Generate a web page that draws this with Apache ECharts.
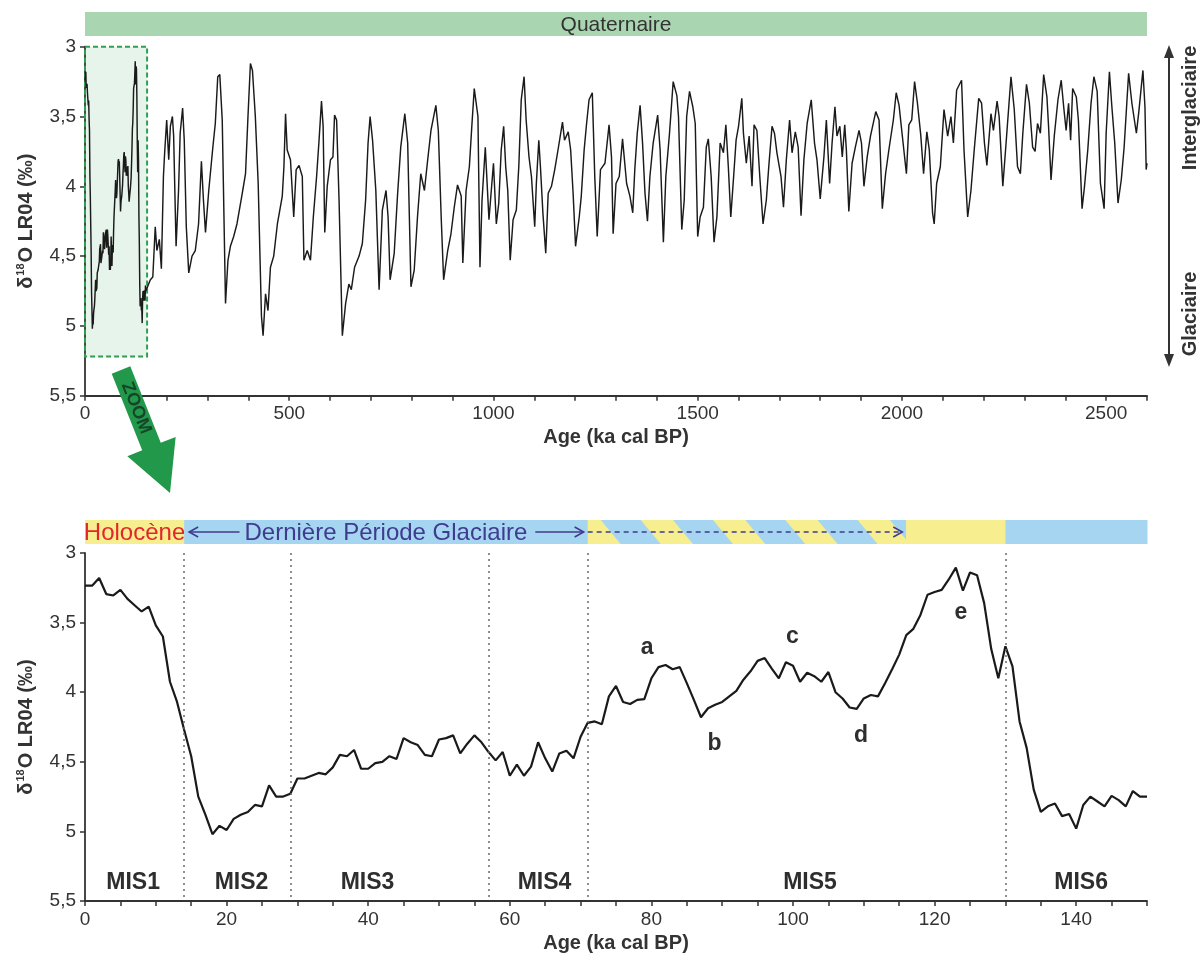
<!DOCTYPE html>
<html>
<head>
<meta charset="utf-8">
<title>δ18O LR04 – Quaternaire</title>
<script src="https://cdn.jsdelivr.net/npm/echarts@6/dist/echarts.min.js"></script>
<style>
  html, body { margin: 0; padding: 0; background: #fff; }
  #chart { width: 1203px; height: 964px; }
</style>
</head>
<body>
<div id="chart"></div>
<script>
// ---------------- data ----------------
// Last 150 ka, 1 ka steps (LR04 benthic stack, ‰)
const recentAges = [
  0,1,2,3,4,5,6,7,8,9,10,11,12,13,14,15,16,17,18,19,
  20,21,22,23,24,25,26,27,28,29,30,31,32,33,34,35,36,37,38,39,
  40,41,42,43,44,45,46,47,48,49,50,51,52,53,54,55,56,57,58,59,
  60,61,62,63,64,65,66,67,68,69,70,71,72,73,74,75,76,77,78,79,
  80,81,82,83,84,85,86,87,88,89,90,91,92,93,94,95,96,97,98,99,
  100,101,102,103,104,105,106,107,108,109,110,111,112,113,114,115,116,117,118,119,
  120,121,122,123,124,125,126,127,128,129,130,131,132,133,134,135,136,137,138,139,
  140,141,142,143,144,145,146,147,148,149,150
];
const recentD18O = [
  3.235,3.235,3.18,3.295,3.305,3.265,3.33,3.375,3.42,3.385,
  3.52,3.60,3.925,4.07,4.27,4.46,4.75,4.88,5.02,4.96,
  4.99,4.91,4.88,4.86,4.81,4.82,4.67,4.75,4.75,4.73,
  4.62,4.62,4.60,4.58,4.59,4.54,4.45,4.46,4.415,4.55,
  4.55,4.51,4.50,4.46,4.48,4.33,4.36,4.38,4.45,4.46,
  4.34,4.33,4.31,4.44,4.37,4.31,4.36,4.43,4.49,4.43,
  4.60,4.52,4.60,4.535,4.36,4.475,4.57,4.44,4.42,4.475,
  4.32,4.22,4.21,4.23,4.03,3.955,4.07,4.085,4.055,4.05,
  3.90,3.82,3.805,3.835,3.82,3.935,4.055,4.18,4.115,4.09,
  4.07,4.03,3.99,3.91,3.85,3.775,3.755,3.83,3.90,3.785,
  3.81,3.925,3.86,3.885,3.925,3.855,4.00,4.045,4.11,4.12,
  4.045,4.02,4.03,3.935,3.835,3.73,3.59,3.545,3.445,3.30,
  3.28,3.265,3.19,3.105,3.27,3.14,3.16,3.36,3.69,3.90,
  3.67,3.815,4.21,4.40,4.70,4.86,4.82,4.80,4.89,4.875,
  4.98,4.81,4.75,4.785,4.82,4.745,4.775,4.82,4.71,4.75,
  4.75
];

// Older part of the record, 152 ka – 2600 ka
const longAges = [
  152,160,166,172,176,182,187,192,195,200,205,209,214,217,223,229,233,239,243,248,
  254,262,270,278,285,290,295,303,313,319,325,330,336,344,350,356,364,372,385,393,
  399,405,410,417,424,432,436,442,448,454,462,471,483,487,491,495,503,511,517,524,
  532,536,544,552,559,567,573,579,583,587,593,601,607,611,616,622,630,638,646,652,
  660,671,679,687,693,698,704,712,720,728,737,742,747,757,765,773,783,790,798,806,
  814,822,831,839,847,859,865,872,878,888,896,904,912,921,925,933,941,947,953,962,
  967,972,980,989,1000,1007,1013,1019,1025,1030,1035,1041,1048,1056,1062,1068,1075,1080,1087,1093,
  1101,1105,1111,1115,1121,1128,1134,1142,1150,1158,1169,1174,1183,1189,1195,1201,1210,1215,1222,1228,
  1234,1242,1248,1254,1262,1273,1283,1289,1293,1300,1308,1316,1326,1334,1341,1346,1352,1359,1365,1371,
  1377,1383,1391,1402,1408,1416,1422,1431,1440,1449,1453,1461,1467,1473,1480,1488,1494,1500,1506,1514,
  1521,1526,1533,1540,1547,1555,1563,1569,1575,1581,1588,1594,1600,1608,1612,1619,1626,1633,1638,1645,
  1652,1660,1668,1674,1682,1688,1694,1704,1710,1717,1725,1731,1739,1746,1753,1760,1768,1778,1786,1792,
  1800,1809,1815,1823,1829,1836,1841,1848,1854,1860,1864,1870,1878,1886,1895,1901,1907,1915,1923,1936,
  1944,1952,1960,1968,1979,1986,1993,2001,2011,2017,2024,2031,2038,2046,2053,2061,2067,2075,2079,2085,
  2094,2103,2112,2120,2126,2134,2146,2152,2161,2169,2177,2188,2195,2202,2208,2218,2224,2233,2238,2247,
  2255,2267,2275,2283,2290,2296,2305,2312,2320,2326,2332,2339,2347,2355,2359,2365,2373,2382,2390,2396,
  2402,2408,2413,2418,2427,2432,2441,2447,2455,2463,2470,2478,2486,2495,2500,2508,2514,2521,2529,2537,
  2544,2555,2563,2574,2580,2590,2595,2598,2600
];
const longD18O = [
  4.74,4.67,4.65,4.29,4.46,4.38,4.59,3.93,3.76,3.525,3.81,3.57,3.50,3.64,4.43,4.03,3.62,3.44,3.67,4.29,
  4.62,4.50,4.46,4.27,3.82,4.10,4.33,4.03,3.72,3.55,3.215,3.20,3.525,4.84,4.53,4.43,4.36,4.27,4.05,3.91,
  3.50,3.12,3.17,3.50,3.98,4.93,5.07,4.77,4.89,4.58,4.50,4.27,4.07,3.86,3.48,3.74,3.81,4.22,3.88,3.85,
  3.93,4.53,4.46,4.53,4.22,3.93,3.67,3.39,3.57,4.33,4.00,3.81,3.79,3.49,3.525,4.10,5.07,4.84,4.70,4.74,
  4.58,4.50,4.41,4.10,3.69,3.50,3.67,4.03,4.74,4.17,4.03,4.22,4.67,4.48,4.07,3.72,3.48,3.69,4.72,4.60,
  4.22,3.91,4.03,3.81,3.60,3.42,3.60,4.22,4.67,4.46,4.34,4.15,3.99,4.07,4.55,4.03,3.86,3.57,3.30,3.50,
  4.58,4.10,3.72,4.24,3.835,4.27,4.12,3.74,3.57,3.86,4.03,4.53,4.24,4.17,3.86,3.38,3.215,3.525,3.79,3.93,
  4.29,3.98,3.67,3.86,4.19,4.48,4.05,4.00,3.88,3.74,3.54,3.67,3.61,3.74,4.05,4.43,4.22,4.07,3.74,3.55,
  3.38,3.33,3.93,4.36,3.88,3.835,3.56,3.79,4.34,3.98,3.93,3.66,3.98,4.07,4.19,3.88,3.62,3.42,3.69,4.05,
  4.25,3.93,3.69,3.49,3.74,4.40,3.93,3.62,3.25,3.35,3.50,4.31,4.10,3.50,3.32,3.43,3.55,4.36,4.22,4.15,
  3.72,3.66,3.93,4.40,4.22,3.69,3.76,3.56,3.86,4.22,3.93,3.67,3.57,3.37,3.62,3.835,3.64,4.00,3.56,3.60,
  3.93,4.27,4.10,3.86,3.57,3.62,3.76,3.93,4.15,3.81,3.525,3.76,3.61,3.72,4.21,3.81,3.55,3.38,3.69,3.81,
  4.09,3.79,3.525,3.98,3.69,3.43,3.64,3.57,3.79,3.56,3.74,4.18,3.835,3.72,3.60,3.69,4.00,3.79,3.64,3.465,
  3.525,4.16,3.91,3.74,3.525,3.33,3.42,3.64,3.91,3.56,3.525,3.25,3.405,3.63,3.91,3.61,3.74,4.19,4.27,3.98,
  3.86,3.45,3.64,3.50,3.69,3.31,3.24,3.74,4.22,4.03,3.74,3.37,3.405,3.69,3.85,3.48,3.60,3.39,3.50,4.00,
  3.69,3.215,3.45,3.86,3.91,3.62,3.27,3.405,3.72,3.75,3.55,3.62,3.20,3.36,3.57,3.955,3.64,3.38,3.24,3.43,
  3.60,3.405,3.67,3.30,3.36,3.525,4.16,4.00,3.74,3.405,3.215,3.32,3.98,4.16,3.62,3.18,3.43,3.69,4.12,3.955,
  3.72,3.19,3.405,3.62,3.465,3.17,3.43,3.88,3.835
];

// Axis ranges and tick labels
const topAgeRange = [0, 2600], topAgeStep = 100, topAgeLabelStep = 500;
const zoomAgeRange = [0, 150], zoomAgeStep = 5, zoomAgeLabelStep = 20;
const d18oTicks = [3, 3.5, 4, 4.5, 5, 5.5];

// Window of the record enlarged in the lower panel
const zoomBoxAges = [0, 152];
const zoomBoxLevels = [3, 5.22];

// Marine isotope stages
const stageBounds = [14, 29, 57, 71, 130];
const stageNames = ['MIS1', 'MIS2', 'MIS3', 'MIS4', 'MIS5', 'MIS6'];
const stageLabelAges = [6.8, 22.1, 39.9, 64.9, 102.4, 140.7];
const stageLabelLevel = 5.366;

// MIS5 sub-stages
const subNames = ['a', 'b', 'c', 'd', 'e'];
const subAges = [79.4, 88.9, 99.9, 109.6, 123.7];
const subLevels = [3.68, 4.37, 3.60, 4.31, 3.43];

// Climatic periods band over the lower panel
const periodStarts = [0, 14, 71, 116, 130];
const periodEnds = [14, 71, 116, 130, 150];
const periodKinds = ['warm', 'cold', 'mixed', 'warm', 'cold'];
const periodNames = ['Holocène', 'Dernière Période Glaciaire', '', '', ''];

// Geological period band over the upper panel
const eraName = 'Quaternaire';
const eraRange = [0, 2600];

// ---------------- styling ----------------
const FONT = '"Liberation Sans", Arial, Helvetica, sans-serif';
const INK = '#333333';
const LINE = '#1a1a1a';
const YELLOW = '#f6ee8f';
const BLUE = '#a6d5f1';
const ERA_GREEN = '#a9d6b1';
const PURPLE = '#3f3b8e';
const RED = '#e3262b';
const ARROW_GREEN = '#22994a';

const GRID_L = 85, GRID_R = 56;
const TOP_GRID = { top: 46.7, height: 349 };
const BOT_GRID = { top: 553, height: 348 };

const comma = v => String(v).replace('.', ',');

const measureCtx = document.createElement('canvas').getContext('2d');
function textWidth(t, font) { measureCtx.font = font; return measureCtx.measureText(t).width; }

function yAxisFor(gridIndex) {
  return {
    gridIndex, type: 'value', inverse: true,
    min: d18oTicks[0], max: d18oTicks[d18oTicks.length - 1],
    interval: d18oTicks[1] - d18oTicks[0],
    axisLine: { show: true, lineStyle: { color: INK, width: 1.8 } },
    axisTick: { show: true, length: 5, lineStyle: { color: INK, width: 1.5 } },
    axisLabel: { formatter: comma, fontSize: 19, color: INK, fontFamily: FONT, margin: 9 },
    splitLine: { show: false },
    name: '{t|δ}{s|18}{t|O LR04 (‰)}',
    nameLocation: 'middle', nameGap: 48, nameRotate: 90, nameMoveOverlap: false,
    nameTextStyle: {
      rich: {
        t: { fontSize: 20, fontWeight: 'bold', fontFamily: FONT, color: INK, lineHeight: 22 },
        s: { fontSize: 11, fontWeight: 'bold', fontFamily: FONT, color: INK, verticalAlign: 'top', padding: [0, 1, 0, 1] }
      }
    }
  };
}

function xAxisFor(gridIndex, range, step, labelStep) {
  return {
    gridIndex, type: 'value', min: range[0], max: range[1], interval: step,
    axisLine: { show: true, onZero: false, lineStyle: { color: INK, width: 1.8 } },
    axisTick: { show: true, length: 5, lineStyle: { color: INK, width: 1.5 } },
    axisLabel: {
      formatter: v => (v % labelStep === 0 ? String(v) : ''),
      fontSize: 19, color: INK, fontFamily: FONT, margin: 9
    },
    splitLine: { show: false },
    name: 'Age (ka cal BP)', nameLocation: 'middle', nameGap: 32, nameMoveOverlap: false,
    nameTextStyle: { fontSize: 20, fontWeight: 'bold', fontFamily: FONT, color: INK }
  };
}

// Clip a polygon between two vertical lines
function clipPolyX(pts, lo, hi) {
  function pass(poly, keep, xe) {
    const out = [];
    for (let k = 0; k < poly.length; k++) {
      const p = poly[k], q = poly[(k + 1) % poly.length];
      const pin = keep(p[0]), qin = keep(q[0]);
      if (pin) out.push(p);
      if (pin !== qin) {
        const t = (xe - p[0]) / (q[0] - p[0]);
        out.push([xe, p[1] + t * (q[1] - p[1])]);
      }
    }
    return out;
  }
  let r = pass(pts, x => x >= lo, lo);
  if (r.length) r = pass(r, x => x <= hi, hi);
  return r;
}

function txt(text, x, y, font, fill, align) {
  return {
    type: 'text',
    style: { text, x, y, font, fill, textAlign: align || 'center', align: align || 'center',
             textVerticalAlign: 'middle', verticalAlign: 'middle' }
  };
}

function chevron(xTip, yc, dir, color) {
  return {
    type: 'polyline',
    shape: { points: [[xTip - dir * 9, yc - 5], [xTip, yc], [xTip - dir * 9, yc + 5]] },
    style: { stroke: color, lineWidth: 1.6, fill: null }
  };
}

function renderEra(params, api) {
  const a = api.coord([api.value(0), api.value(2)]);
  const b = api.coord([api.value(1), api.value(2)]);
  const y = a[1] - 34.7, h = 24;
  return {
    type: 'group',
    children: [
      { type: 'rect', shape: { x: a[0], y, width: b[0] - a[0], height: h }, style: { fill: ERA_GREEN } },
      txt(eraName, (a[0] + b[0]) / 2, y + h / 2 + 1, `21px ${FONT}`, INK)
    ]
  };
}

function renderPeriod(params, api) {
  const i = params.dataIndex;
  const a = api.coord([api.value(0), api.value(2)]);
  const b = api.coord([api.value(1), api.value(2)]);
  const x1 = a[0], x2 = b[0], y = a[1] - 33, h = 24, yc = y + h / 2;
  const kind = periodKinds[i];
  const kids = [{
    type: 'rect', shape: { x: x1, y, width: x2 - x1 + 0.5, height: h },
    style: { fill: kind === 'cold' ? BLUE : YELLOW }
  }];
  if (kind === 'mixed') {
    const period = 72.3, w = 40, slant = 20;
    for (let sx = x1 + 13 - period; sx < x2; sx += period) {
      const poly = clipPolyX([[sx, y], [sx + w, y], [sx + w + slant, y + h], [sx + slant, y + h]], x1, x2);
      if (poly.length > 2) kids.push({ type: 'polygon', shape: { points: poly }, style: { fill: BLUE } });
    }
    kids.push({ type: 'line', shape: { x1: x1, y1: yc, x2: x2 - 5, y2: yc },
                style: { stroke: PURPLE, lineWidth: 1.6, lineDash: [5, 4] } });
    kids.push(chevron(x2 - 4, yc, 1, PURPLE));
  }
  const name = periodNames[i];
  if (name) {
    const font = `24px ${FONT}`;
    const cx = (x1 + x2) / 2;
    if (kind === 'warm') {
      kids.push(txt(name, cx, yc + 1, font, RED));
    } else {
      const half = textWidth(name, font) / 2;
      kids.push(txt(name, cx, yc + 1, font, PURPLE));
      kids.push({ type: 'line', shape: { x1: x1 + 5, y1: yc, x2: cx - half - 5, y2: yc },
                  style: { stroke: PURPLE, lineWidth: 1.6 } });
      kids.push(chevron(x1 + 5, yc, -1, PURPLE));
      kids.push({ type: 'line', shape: { x1: cx + half + 8, y1: yc, x2: x2 - 4, y2: yc },
                  style: { stroke: PURPLE, lineWidth: 1.6 } });
      kids.push(chevron(x2 - 4, yc, 1, PURPLE));
    }
  }
  return { type: 'group', children: kids };
}

// "ZOOM" arrow linking the two panels
function zoomArrow() {
  const tail = [121, 370], tip = [170, 493];
  const dx = tip[0] - tail[0], dy = tip[1] - tail[1], len = Math.hypot(dx, dy);
  const d = [dx / len, dy / len], n = [d[1], -d[0]];
  const headLen = 50, shaftHalf = 10, headHalf = 26;
  const base = [tip[0] - headLen * d[0], tip[1] - headLen * d[1]];
  const off = (p, s) => [p[0] + s * n[0], p[1] + s * n[1]];
  const pts = [off(tail, shaftHalf), off(base, shaftHalf), off(base, headHalf), tip,
               off(base, -headHalf), off(base, -shaftHalf), off(tail, -shaftHalf)];
  const mid = [tail[0] + 41 * d[0], tail[1] + 41 * d[1]];
  return [
    { type: 'polygon', z: 100, shape: { points: pts }, style: { fill: ARROW_GREEN } },
    {
      type: 'text', z: 101, x: mid[0], y: mid[1], rotation: -Math.atan2(dy, dx),
      style: { text: 'ZOOM', font: `bold 18px ${FONT}`, fill: '#17452a',
               textAlign: 'center', align: 'center', textVerticalAlign: 'middle', verticalAlign: 'middle' }
    }
  ];
}

// Interglacial / glacial direction arrow on the right
function climateArrow() {
  const x = 1169, yTop = 45, yBot = 367;
  const label = (text, y) => ({
    type: 'text', x: 1190, y, rotation: Math.PI / 2,
    style: { text, font: `bold 20px ${FONT}`, fill: INK,
             textAlign: 'center', align: 'center', textVerticalAlign: 'middle', verticalAlign: 'middle' }
  });
  return [
    { type: 'line', shape: { x1: x, y1: yTop + 10, x2: x, y2: yBot - 10 }, style: { stroke: INK, lineWidth: 2 } },
    { type: 'polygon', shape: { points: [[x, yTop], [x - 5, yTop + 13], [x + 5, yTop + 13]] }, style: { fill: INK } },
    { type: 'polygon', shape: { points: [[x, yBot], [x - 5, yBot - 13], [x + 5, yBot - 13]] }, style: { fill: INK } },
    label('Interglaciaire', 108),
    label('Glaciaire', 314)
  ];
}

const topData = recentAges.map((a, i) => [a, recentD18O[i]])
  .concat(longAges.map((a, i) => [a, longD18O[i]]));
const zoomData = recentAges.map((a, i) => [a, recentD18O[i]]);

const textLabelStyle = {
  show: true, position: 'inside', formatter: '{b}', opacity: 1,
  fontSize: 23, fontWeight: 'bold', fontFamily: FONT, color: '#2e2e2e'
};

const option = {
  animation: false,
  backgroundColor: '#ffffff',
  grid: [
    { left: GRID_L, right: GRID_R, top: TOP_GRID.top, height: TOP_GRID.height, containLabel: false, outerBoundsMode: 'none' },
    { left: GRID_L, right: GRID_R, top: BOT_GRID.top, height: BOT_GRID.height, containLabel: false, outerBoundsMode: 'none' }
  ],
  xAxis: [
    xAxisFor(0, topAgeRange, topAgeStep, topAgeLabelStep),
    xAxisFor(1, zoomAgeRange, zoomAgeStep, zoomAgeLabelStep)
  ],
  yAxis: [yAxisFor(0), yAxisFor(1)],
  series: [
    {
      type: 'custom', xAxisIndex: 0, yAxisIndex: 0, clip: false, silent: true,
      encode: { x: [0, 1], y: 2 },
      data: [[eraRange[0], eraRange[1], d18oTicks[0]]],
      renderItem: renderEra, z: 1
    },
    {
      type: 'line', xAxisIndex: 0, yAxisIndex: 0, data: topData,
      showSymbol: false, symbol: 'none', silent: true, z: 3,
      lineStyle: { color: LINE, width: 1.45 },
      markArea: {
        silent: true,
        itemStyle: { color: 'rgba(60,165,90,0.12)', borderColor: '#2f9e50', borderWidth: 2, borderType: [5, 3] },
        data: [[{ xAxis: zoomBoxAges[0], yAxis: zoomBoxLevels[0] }, { xAxis: zoomBoxAges[1], yAxis: zoomBoxLevels[1] }]]
      }
    },
    {
      type: 'custom', xAxisIndex: 1, yAxisIndex: 1, clip: false, silent: true,
      encode: { x: [0, 1], y: 2 },
      data: periodStarts.map((s, i) => [s, periodEnds[i], d18oTicks[0]]),
      renderItem: renderPeriod, z: 1
    },
    {
      type: 'line', xAxisIndex: 1, yAxisIndex: 1, data: zoomData,
      showSymbol: false, symbol: 'none', silent: true, z: 3,
      lineStyle: { color: LINE, width: 2.2 },
      markLine: {
        silent: true, symbol: ['none', 'none'], label: { show: false },
        lineStyle: { color: '#6a6a6a', type: [2, 4], width: 1.5 },
        data: stageBounds.map(a => ({ xAxis: a }))
      }
    },
    {
      type: 'scatter', xAxisIndex: 1, yAxisIndex: 1, silent: true, symbolSize: 1,
      itemStyle: { color: 'rgba(0,0,0,0)', opacity: 1 }, label: textLabelStyle,
      data: stageNames.map((n, i) => ({ name: n, value: [stageLabelAges[i], stageLabelLevel] }))
    },
    {
      type: 'scatter', xAxisIndex: 1, yAxisIndex: 1, silent: true, symbolSize: 1,
      itemStyle: { color: 'rgba(0,0,0,0)', opacity: 1 }, label: textLabelStyle,
      data: subNames.map((n, i) => ({ name: n, value: [subAges[i], subLevels[i]] }))
    }
  ],
  graphic: zoomArrow().concat(climateArrow())
};

const chart = echarts.init(document.getElementById('chart'), null, { renderer: 'canvas' });
chart.setOption(option);
</script>
</body>
</html>
